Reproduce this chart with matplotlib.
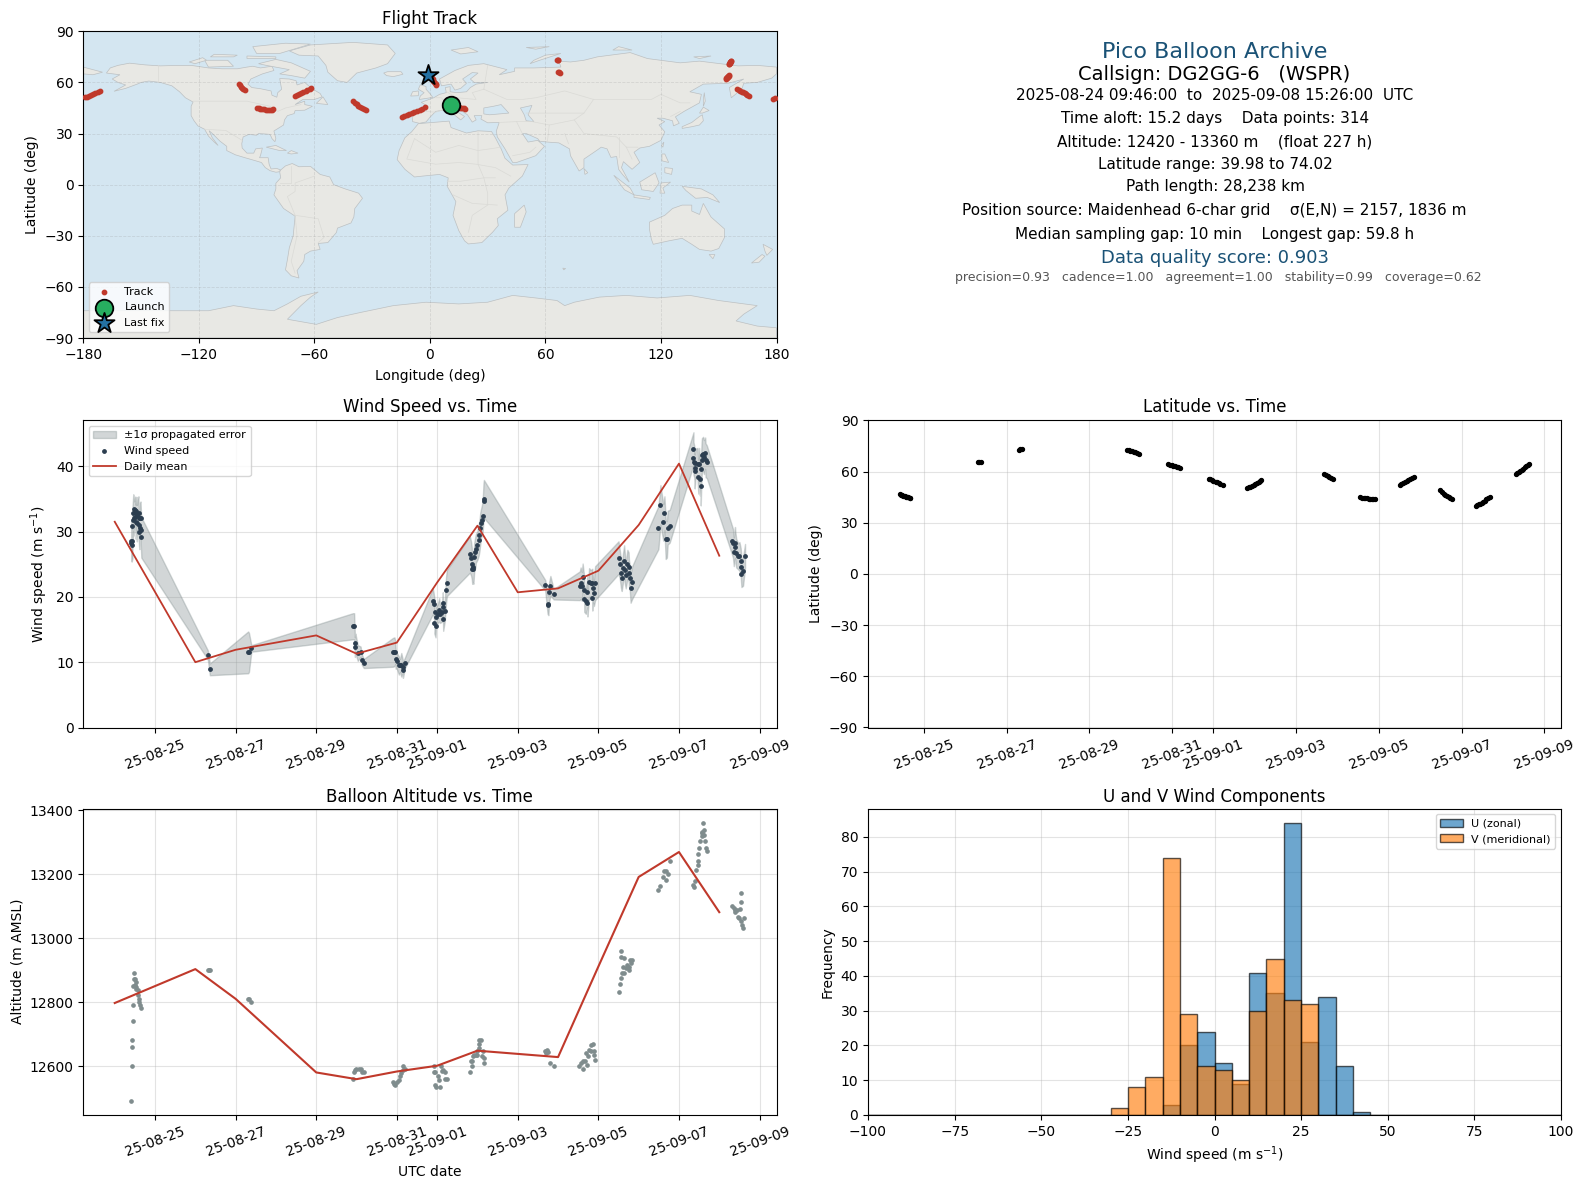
import datetime as dt

import matplotlib
matplotlib.use("Agg")
import matplotlib.dates as mdates
import matplotlib.pyplot as plt
from matplotlib.patches import Polygon

# days since 2025-08-24 00:00 UTC
START = mdates.date2num(dt.datetime(2025, 8, 24))

# ---- flight track
track_days = [0.41, 0.44, 0.47, 0.50, 0.53, 0.56, 0.59, 0.62, 0.65, 0.67,
              2.30, 2.34, 2.38, 3.30, 3.33, 3.36,
              5.91, 5.95, 5.99, 6.03, 6.07, 6.11, 6.15, 6.19,
              6.91, 6.95, 6.99, 7.03, 7.07, 7.11, 7.15, 7.19,
              7.88, 7.92, 7.96, 8.00, 8.05, 8.09, 8.13, 8.17, 8.22,
              8.81, 8.85, 8.89, 8.93, 8.97, 9.01, 9.05, 9.09, 9.13, 9.16,
              10.68, 10.72, 10.76, 10.80, 10.84, 10.89,
              11.55, 11.59, 11.63, 11.67, 11.71, 11.75, 11.79, 11.83, 11.87, 11.90,
              12.50, 12.54, 12.58, 12.63, 12.67, 12.71, 12.75, 12.80, 12.84,
              13.49, 13.53, 13.57, 13.61, 13.65, 13.69, 13.73, 13.77,
              14.34, 14.38, 14.42, 14.45, 14.49, 14.53, 14.57, 14.60, 14.64, 14.68,
              15.31, 15.35, 15.38, 15.42, 15.46, 15.49, 15.53, 15.57, 15.60, 15.64]
track_lat = [46.7, 46.4, 46.1, 45.9, 45.6, 45.3, 45.1, 44.9, 44.7, 44.5,
             65.9, 65.9, 65.8, 72.9, 73.1, 73.3,
             72.7, 72.5, 72.2, 71.9, 71.6, 71.3, 70.9, 70.6,
             64.3, 64.0, 63.7, 63.4, 63.1, 62.8, 62.5, 62.2,
             55.9, 55.5, 55.0, 54.6, 54.1, 53.7, 53.2, 52.7, 52.2,
             50.4, 50.8, 51.2, 51.7, 52.2, 52.7, 53.2, 53.8, 54.4, 54.9,
             58.8, 58.2, 57.6, 57.0, 56.4, 55.7,
             44.9, 44.7, 44.5, 44.4, 44.3, 44.1, 44.0, 43.8, 43.7, 44.2,
             52.2, 52.8, 53.3, 53.9, 54.5, 55.0, 55.6, 56.2, 56.7,
             49.0, 48.0, 47.1, 46.4, 45.8, 45.2, 44.5, 43.9,
             39.8, 40.3, 40.8, 41.3, 41.8, 42.4, 43.0, 43.7, 44.5, 45.3,
             58.4, 59.0, 59.7, 60.4, 61.1, 61.8, 62.5, 63.2, 63.7, 64.3]
track_lon = [10.7, 11.5, 12.4, 13.2, 14.0, 14.9, 15.8, 16.6, 17.5, 18.3,
             66.6, 67.0, 67.4, 66.4, 66.3, 66.2,
             156.4, 156.3, 156.1, 156.0, 155.8, 155.6, 155.4, 155.2,
             155.3, 155.1, 154.8, 154.6, 154.3, 154.1, 153.8, 153.6,
             159.7, 160.4, 161.2, 161.9, 162.7, 163.4, 164.2, 164.9, 165.6,
             178.0, 179.4, -179.2, -178.0, -177.0, -176.0, -175.0, -173.8, -172.5, -171.3,
             -99.2, -98.7, -98.1, -97.5, -96.9, -96.1,
             -90.0, -89.0, -88.0, -87.0, -86.0, -85.0, -84.0, -83.0, -82.2, -81.4,
             -69.8, -68.8, -67.8, -66.7, -65.7, -64.6, -63.6, -62.5, -61.5,
             -39.9, -39.0, -38.0, -37.1, -36.1, -35.2, -34.2, -33.3,
             -14.6, -13.3, -12.0, -10.7, -9.4, -8.0, -6.7, -5.4, -4.0, -2.7,
             3.4, 3.0, 2.6, 2.2, 1.8, 1.4, 1.0, 0.5, 0.0, -0.9]

# ---- wind speed points, 1 sigma error
wind_days = [0.41, 0.41, 0.42, 0.44, 0.44, 0.45, 0.46, 0.47, 0.48, 0.50, 0.50, 0.52, 0.52,
             0.54, 0.55, 0.56, 0.59, 0.59, 0.60, 0.61, 0.62, 0.62, 0.64, 0.65, 0.66,
             2.31, 2.36, 3.31, 3.33, 3.39,
             5.91, 5.94, 5.96, 5.97, 6.03, 6.10, 6.13, 6.18,
             6.90, 6.94, 6.96, 6.97, 7.00, 7.05, 7.08, 7.11, 7.15, 7.15, 7.20,
             7.89, 7.91, 7.94, 7.93, 7.96, 7.97, 8.01, 8.05, 8.07, 8.12, 8.14, 8.14, 8.15, 8.19, 8.22, 8.24,
             8.81, 8.84, 8.86, 8.87, 8.88, 8.90, 8.92, 8.95, 8.96, 9.00, 9.03, 9.05, 9.07, 9.09, 9.11, 9.13, 9.15, 9.16,
             10.68, 10.74, 10.76, 10.78, 10.81, 10.89,
             11.54, 11.56, 11.59, 11.61, 11.65, 11.65, 11.69, 11.73, 11.73, 11.77, 11.81, 11.85, 11.85, 11.87, 11.89, 11.92,
             12.50, 12.53, 12.56, 12.58, 12.61, 12.64, 12.66, 12.68, 12.72, 12.75, 12.76, 12.78, 12.80, 12.84,
             13.49, 13.54, 13.61, 13.64, 13.67, 13.70, 13.72, 13.77,
             14.36, 14.36, 14.38, 14.39, 14.40, 14.41, 14.46, 14.48, 14.50, 14.52, 14.54, 14.54, 14.56, 14.57, 14.60, 14.62, 14.65, 14.66, 14.69,
             15.32, 15.34, 15.36, 15.39, 15.40, 15.42, 15.47, 15.50, 15.53, 15.54, 15.55, 15.59, 15.64]
wind_speed = [28.6, 28.3, 27.9, 28.6, 30.8, 31.7, 32.9, 32.0, 33.4, 32.3, 33.3, 33.1, 31.5,
              32.8, 31.3, 32.5, 32.8, 32.0, 31.0, 29.9, 30.6, 32.0, 32.0, 30.3, 29.1,
              11.1, 8.9, 11.5, 11.5, 12.1,
              15.5, 15.5, 12.3, 12.9, 11.4, 11.6, 10.4, 9.8,
              11.5, 11.6, 11.5, 10.5, 10.2, 9.5, 9.5, 9.6, 9.3, 8.8, 9.9,
              19.3, 18.9, 17.7, 16.0, 15.5, 16.9, 17.4, 18.0, 17.4, 17.7, 18.4, 19.1, 16.6, 17.8, 21.0, 22.1,
              26.5, 25.9, 25.1, 24.2, 24.6, 24.2, 26.1, 26.9, 27.4, 27.9, 28.7, 29.4, 30.5, 31.3, 31.7, 32.4, 34.7, 35.0,
              21.8, 18.9, 18.7, 20.8, 21.7, 20.4,
              21.7, 22.1, 21.6, 23.1, 21.0, 19.7, 19.4, 20.8, 19.0, 22.2, 22.1, 22.1, 19.9, 21.3, 20.6, 22.1,
              26.0, 25.0, 23.6, 22.9, 24.4, 25.5, 24.1, 23.3, 25.0, 24.6, 23.6, 22.9, 21.3, 22.2,
              30.6, 34.1, 31.4, 32.8, 28.8, 28.8, 30.6, 30.8,
              42.7, 41.2, 40.7, 39.2, 39.8, 40.5, 40.4, 38.4, 40.4, 38.1, 39.5, 37.0, 40.9, 41.7, 41.9, 41.4, 42.0, 40.9, 40.7,
              28.6, 28.2, 26.9, 28.3, 27.7, 26.7, 26.2, 26.2, 25.5, 24.6, 23.5, 23.9, 26.3]
wind_err = [3.0, 2.8, 2.5, 2.7, 2.9, 3.0, 2.8, 2.6, 2.0, 2.4, 2.0, 2.2, 2.6,
            2.5, 2.8, 2.4, 2.6, 2.2, 2.8, 2.6, 2.6, 2.4, 2.6, 2.8, 3.1,
            0.7, 0.9, 3.2, 3.0, 0.5,
            2.0, 2.0, 1.5, 1.5, 1.2, 0.8, 0.8, 0.7,
            2.2, 2.2, 1.8, 1.5, 1.2, 1.4, 1.0, 1.8, 1.0, 1.2, 0.8,
            2.0, 1.8, 1.8, 1.6, 1.7, 1.6, 1.4, 1.8, 1.4, 1.5, 1.8, 1.6, 1.8, 1.5, 2.0, 2.0,
            2.8, 2.6, 2.4, 2.2, 2.4, 2.2, 2.2, 2.4, 2.2, 2.2, 2.4, 2.4, 2.4, 2.2, 2.3, 2.4, 2.7, 2.9,
            0.8, 1.5, 1.5, 1.5, 1.5, 0.8,
            2.2, 2.4, 2.2, 2.0, 2.0, 2.0, 2.0, 2.4, 2.0, 2.2, 2.0, 2.2, 2.0, 2.2, 2.0, 2.6,
            2.5, 2.2, 2.2, 2.0, 2.2, 2.4, 2.2, 2.0, 2.2, 2.2, 2.0, 2.0, 2.2, 2.5,
            3.3, 3.0, 2.8, 2.6, 3.0, 2.8, 2.6, 2.5,
            2.5, 2.5, 2.4, 2.6, 2.4, 2.2, 2.4, 2.6, 2.4, 2.6, 2.4, 3.0, 2.6, 2.6, 2.6, 2.6, 2.4, 2.6, 2.5,
            2.2, 2.2, 2.2, 2.4, 2.2, 2.2, 2.0, 2.2, 2.0, 2.2, 2.0, 2.2, 1.8]

# ---- altitude points
alt_days = [0.41, 0.42, 0.425, 0.43, 0.45, 0.455, 0.46, 0.47, 0.48, 0.50, 0.51, 0.52, 0.53, 0.54, 0.58, 0.585, 0.60, 0.605, 0.62, 0.65,
            2.31, 2.34, 2.36, 3.31, 3.33, 3.38,
            5.91, 5.93, 5.96, 5.99, 6.06, 6.12, 6.14, 6.18,
            6.90, 6.92, 6.96, 7.00, 7.05, 7.08, 7.11, 7.15, 7.16, 7.20,
            7.91, 7.91, 7.95, 7.97, 7.95, 8.01, 8.07, 8.05, 8.10, 8.12, 8.15, 8.20, 8.19, 8.24,
            8.81, 8.84, 8.86, 8.86, 8.88, 8.92, 8.96, 9.00, 9.00, 9.05, 9.05, 9.03, 9.09, 9.11, 9.13, 9.15, 9.15,
            10.68, 10.73, 10.76, 10.71, 10.81, 10.89,
            11.52, 11.56, 11.61, 11.62, 11.66, 11.69, 11.75, 11.77, 11.81, 11.87, 11.81, 11.89, 11.91, 11.88, 11.71,
            12.50, 12.53, 12.56, 12.58, 12.64, 12.60, 12.56, 12.57, 12.64, 12.72, 12.76, 12.75, 12.80, 12.84, 12.78, 12.68,
            13.49, 13.54, 13.61, 13.64, 13.69, 13.72, 13.69, 13.77,
            14.36, 14.38, 14.40, 14.43, 14.46, 14.48, 14.48, 14.50, 14.52, 14.56, 14.58, 14.62, 14.60, 14.62, 14.65, 14.66, 14.69, 14.56,
            15.32, 15.36, 15.40, 15.39, 15.43, 15.46, 15.49, 15.51, 15.53, 15.55, 15.55, 15.57, 15.58, 15.62]
alt_m = [12491, 12600, 12659, 12681, 12741, 12791, 12851, 12872, 12891, 12852, 12872, 12862, 12840, 12846, 12839, 12823, 12810, 12800, 12792, 12780,
         12900, 12900, 12900, 12810, 12810, 12800,
         12559, 12581, 12587, 12592, 12592, 12592, 12581, 12581,
         12550, 12544, 12542, 12550, 12557, 12568, 12578, 12589, 12599, 12592,
         12581, 12599, 12581, 12533, 12542, 12568, 12533, 12557, 12599, 12583, 12589, 12581, 12559, 12559,
         12581, 12615, 12599, 12615, 12630, 12635, 12633, 12635, 12646, 12656, 12669, 12680, 12680, 12630, 12646, 12609, 12625,
         12648, 12651, 12644, 12641, 12610, 12600,
         12599, 12609, 12592, 12615, 12615, 12641, 12630, 12651, 12667, 12669, 12646, 12646, 12618, 12635, 12602,
         12831, 12858, 12875, 12891, 12891, 12911, 12941, 12959, 12937, 12917, 12901, 12911, 12922, 12931, 12930, 12908,
         13150, 13162, 13191, 13211, 13211, 13201, 13181, 13242,
         13167, 13161, 13179, 13214, 13229, 13242, 13262, 13281, 13304, 13318, 13333, 13339, 13359, 13323, 13302, 13283, 13273, 13328,
         13099, 13094, 13089, 13081, 13089, 13065, 13063, 13091, 13141, 13112, 13052, 13040, 13031, 13062]

# ---- daily means
daily_days = [0, 2, 3, 5, 6, 7, 8, 9, 10, 11, 12, 13, 14, 15]
daily_wind = [31.5, 10.0, 11.9, 14.1, 11.3, 13.0, 22.2, 30.9, 20.7, 21.3, 24.0, 31.0, 40.4, 26.3]
daily_alt = [12797, 12903, 12810, 12580, 12559, 12583, 12601, 12648, 12638, 12628, 12911, 13191, 13269, 13081]

# ---- histogram, bins of 5 m/s from -100 to 100
hist_edges = list(range(-100, 105, 5))
u_counts = [0] * 17 + [3, 20, 24, 15, 9, 41, 35, 84, 21, 34, 14, 1] + [0] * 11
v_counts = [0] * 14 + [2, 8, 11, 74, 29, 14, 13, 10, 30, 45, 33, 32] + [0] * 14

date_ticks = [dt.datetime(2025, 8, 25), dt.datetime(2025, 8, 27), dt.datetime(2025, 8, 29),
              dt.datetime(2025, 8, 31), dt.datetime(2025, 9, 1), dt.datetime(2025, 9, 3),
              dt.datetime(2025, 9, 5), dt.datetime(2025, 9, 7), dt.datetime(2025, 9, 9)]

# ---- rough world outline, lon/lat
land = [
    # north america
    [(-168, 65.5), (-166, 68.5), (-162, 70), (-156, 71.3), (-148, 70.3), (-140, 69.7), (-130, 70), (-124, 70),
     (-115, 68.5), (-108, 68), (-100, 68), (-95, 69), (-92, 69.5), (-88, 68.5), (-82, 69.5), (-81, 67), (-87, 65),
     (-93, 62), (-94.5, 59), (-92.5, 57), (-88, 56.3), (-82.5, 55), (-82, 52.5), (-79.5, 51.3), (-79, 54), (-77, 56),
     (-77.5, 59), (-78, 62.3), (-73, 62), (-69.5, 61), (-69, 58.5), (-65, 60), (-61.5, 56.5), (-57, 53.5), (-56, 51.5),
     (-60, 50), (-66, 50), (-70, 47), (-65, 49), (-65, 47), (-61, 46), (-65, 43.7), (-70, 43.5), (-70.5, 41.7),
     (-74, 40.5), (-75.5, 38), (-76, 35), (-81, 31.5), (-80, 27), (-80.5, 25.2), (-82, 27), (-83, 29.5), (-85, 29.7),
     (-89, 30), (-90, 29), (-94, 29.5), (-97, 28), (-97.7, 24), (-97.5, 21.5), (-95, 18.5), (-91.5, 18.5), (-90.5, 21),
     (-87, 21.5), (-88, 17), (-88.5, 15.8), (-84, 15.8), (-83.5, 12), (-82.5, 9.2), (-79.5, 9.5), (-77.5, 8.6),
     (-78.5, 7.5), (-80, 7.3), (-83, 8.2), (-85.5, 10), (-87.5, 13), (-92, 14.5), (-96, 15.8), (-101, 17.5),
     (-105.5, 20), (-105.5, 22.5), (-109, 25.5), (-112.5, 29.5), (-114.7, 31.7), (-113, 27.5), (-110, 23), (-112, 25),
     (-115, 28.5), (-117, 32.5), (-120.5, 34.5), (-122.5, 37.5), (-124, 40.5), (-124, 46), (-123, 48.5), (-127, 51),
     (-130, 54.5), (-134, 58), (-140, 60), (-146, 60.8), (-150, 60), (-152, 59), (-158, 56.5), (-164, 54.8),
     (-158, 58.5), (-162, 60), (-165, 62), (-161, 64.5)],
    # greenland
    [(-73, 78.5), (-62, 82), (-40, 83.5), (-22, 82), (-18, 77), (-22, 71), (-28, 68.5), (-38, 65.5), (-43, 60),
     (-48, 61), (-53, 66), (-54, 70), (-58, 75.5), (-68, 76)],
    # canadian arctic, caribbean
    [(-80, 73.5), (-72, 71.5), (-67, 69), (-62, 66.5), (-65, 62.5), (-72, 64), (-78, 65), (-73, 67.5), (-85, 70), (-89, 71)],
    [(-117, 73), (-105, 73), (-102, 69.5), (-115, 69)],
    [(-90, 77), (-78, 77), (-62, 82.5), (-75, 83), (-92, 81)],
    [(-125, 72), (-118, 74.5), (-116, 73), (-122, 71)],
    [(-95, 75.5), (-80, 75), (-80, 74), (-95, 74)],
    [(-112, 76.5), (-100, 76), (-102, 75), (-114, 75)],
    [(-59, 47.7), (-55.5, 51.5), (-53, 47)],
    [(-85, 22), (-80, 23), (-74.5, 20), (-78, 20)],
    [(-74, 18.5), (-72, 20), (-68.5, 18.5), (-72, 18)],
    # iceland, britain
    [(-24, 65.5), (-22, 66.3), (-15, 66.3), (-14, 64.8), (-19, 63.4), (-22.5, 64)],
    [(-5.5, 50), (1.5, 51.2), (0, 53.5), (-2, 56), (-2, 57.6), (-5, 58.6), (-6, 56), (-3, 54), (-5, 52)],
    [(-10, 52), (-6, 52.2), (-6, 55), (-9, 54.5)],
    # south america
    [(-77.5, 8.6), (-75, 11), (-71.5, 12.4), (-68, 10.5), (-62, 10.7), (-57, 6), (-52, 4.5), (-50, 0), (-44, -2.5),
     (-37, -5), (-35, -8), (-39, -14), (-39.5, -19), (-41, -22.5), (-48, -25.5), (-48.5, -28), (-53, -34), (-58, -34.5),
     (-57, -38), (-62, -39), (-65, -41), (-65.5, -45), (-69, -50.5), (-68, -54.8), (-72, -53.5), (-75, -50), (-74, -44),
     (-73, -37), (-71, -30), (-70, -18.5), (-76, -14), (-81, -6), (-80, -2.5), (-80, 0.8), (-77.5, 4), (-78, 7.5)],
    # africa
    [(-6, 35.8), (10, 37.3), (11, 33.5), (19, 30.3), (25, 31.6), (32, 31.2), (34, 27.5), (37, 21), (39, 15.5), (43, 11.5),
     (51, 11.8), (48, 5), (41, -2), (39, -6), (40.5, -15), (35, -20), (35.5, -24), (32.5, -28), (27, -34), (20, -34.8),
     (18, -33), (15, -27), (12, -18), (13.5, -10), (9, -1), (9.5, 4), (5, 6), (-4, 5), (-8, 4.5), (-13, 9), (-17, 14.7),
     (-16, 20), (-13, 27.5), (-9.5, 31)],
    # eurasia
    [(-9, 37), (-9.5, 43), (-2, 43.5), (-1, 46), (-4.5, 48.3), (2, 51), (5, 53), (8.5, 54), (8, 57), (10.5, 57.5), (10.5, 54.5),
     (14, 54), (19, 54.5), (21, 57), (24, 59), (30, 60), (23, 60), (21, 62), (25, 65.5), (22, 65.8), (17, 62), (19, 59.5),
     (16, 56.5), (13, 55.5), (11, 59), (6, 58), (5, 62), (13, 67), (20, 70), (28, 71), (40, 67.5), (36, 64.5), (44, 66.5),
     (44, 68.5), (54, 68.5), (68, 69), (67, 72.5), (73, 72), (80, 73), (87, 75), (104, 77.5), (113, 74), (130, 71.5),
     (140, 72.5), (160, 69.7), (170, 70), (180, 69), (180, 65), (177.5, 62.5), (170, 60), (163, 59.5), (162, 56), (156.5, 51),
     (155.5, 57), (163, 62), (155, 59.5), (142, 59), (135, 54.5), (141, 53), (140, 48), (132, 43), (127.5, 39.8), (129.5, 36),
     (126.5, 34.5), (126, 37.5), (121, 39), (118, 39), (122, 37), (119, 35), (122, 31), (120, 26), (114, 22.5), (109, 21.5),
     (106, 19), (109, 13), (105, 9), (100.5, 13.5), (99.5, 10), (103.5, 1.5), (100, 6), (98, 9), (97, 16.5), (94, 16), (92, 21),
     (89, 22), (86.5, 20), (80, 15), (80, 10), (77.5, 8), (73, 17), (72.5, 21), (67, 24.5), (61, 25), (57, 25.5), (56, 27),
     (50, 30), (48, 30), (51, 25), (56, 26), (59.5, 22.5), (55, 17), (45, 13), (43, 13), (39, 21), (35, 28), (34.5, 31.5),
     (36, 36.5), (30, 36.3), (26.5, 38.5), (27, 40.5), (23, 40.5), (24, 38), (22, 36.7), (19.5, 41), (13.5, 45.5), (12.5, 44),
     (18, 40), (16, 38), (11, 42.5), (7, 43.7), (3, 43), (0, 39.5), (-2, 36.8), (-5.5, 36)],
    [(-180, 69), (-170, 66), (-175, 64.5), (-180, 65)],
    # islands
    [(114, -22), (122, -18), (126, -14), (131, -12), (136, -12), (136, -15.5), (140, -17.5), (142, -11), (146, -19), (153, -26),
     (153, -31), (150, -37.5), (146, -39), (140, -38), (136, -35), (131, -31.5), (124, -33), (116, -35), (115, -32), (114, -26)],
    [(145, -41), (148, -41), (147, -43.5)],
    [(173, -35), (178, -38), (175, -41.5), (174, -39)],
    [(172.5, -41), (174, -42), (171, -45.5), (167, -46)],
    [(49, -12), (50, -16), (47, -25), (44, -25), (44, -17)],
    [(95.5, 5.5), (104, -2), (106, -6), (101, -3)],
    [(106, -6), (114.5, -7.5), (114, -8.7), (106, -7.5)],
    [(109, 1.5), (117, 7), (119, 1), (116, -4), (110, -3)],
    [(120, 1), (125, 1.5), (121, -2), (122, -5), (119.5, -5)],
    [(131, -1), (141, -2.5), (147, -6), (150.5, -10.5), (144, -7.5), (138, -8), (133, -3.5)],
    [(120.5, 18), (122, 18), (124, 13), (120.5, 14)],
    [(122, 10), (126, 9.5), (125.5, 6), (122, 7)],
    [(131, 34), (136, 36.5), (140, 40), (141.5, 41), (142, 37.5), (140, 35), (136, 34), (131, 33)],
    [(140, 42), (142, 45.5), (145, 43.5), (141.5, 42)],
    [(142, 46), (143, 49), (142.5, 54), (142, 50)],
    [(120.2, 23), (121.5, 25), (121, 22)],
    [(80, 9.5), (82, 7), (80.5, 6)],
    [(52, 71), (57, 73), (68, 77), (60, 76), (54, 73)],
    [(11, 79), (20, 80.5), (25, 78), (16, 76.7)],
    [(50, 80.5), (62, 81), (55, 79.5)],
    [(95, 79), (105, 79), (98, 81)],
    [(137, 75), (146, 75.5), (140, 74)],
    [(69, -49), (70.5, -49.2), (69.5, -50)],
    # antarctica
    [(-180, -74), (-150, -74), (-130, -74), (-115, -74), (-102, -71), (-90, -73), (-81, -74), (-74, -70), (-67, -65.5),
     (-58, -63), (-62, -66), (-67, -71), (-74, -79), (-59, -82), (-48, -78), (-36, -75), (-19, -71), (-2, -69), (15, -70),
     (30, -69), (43, -65), (55, -66.5), (66, -68), (70, -71), (75, -69), (88, -66), (102, -65), (118, -66.5), (135, -65),
     (150, -68), (170, -71), (163, -76), (159, -80), (170, -83), (180, -84), (180, -90), (-180, -90)],
]
water = [
    [(28, 41.5), (28, 45), (33, 46), (37, 47), (41, 42), (36, 41.5), (31, 41)],
    [(47, 45), (53, 46.5), (51, 41), (54, 37), (50, 37.5), (49, 41)],
]
borders = [
    [(-141, 70), (-141, 60)],
    [(-123, 49), (-95, 49), (-83, 46), (-79, 43), (-75, 45), (-67, 47)],
    [(-117, 32.5), (-106, 31.8), (-97.5, 26)],
    [(-70, -18), (-58, -20), (-55, -31), (-58, -34)],
    [(-70, -18), (-74, -7), (-70, -4), (-70, 1), (-60, 5)],
    [(-70, -18), (-69, -30), (-72, -45), (-70, -52)],
    [(-78, 1), (-72, 1), (-72, 7), (-72, 11)],
    [(-8, 27), (3, 19), (15, 23), (25, 20), (37, 22)],
    [(-8, 27), (-12, 15), (3, 12), (15, 13), (24, 12), (34, 10), (42, 5)],
    [(25, 31), (25, 12), (28, 4), (30, -5), (30, -12), (22, -18), (20, -28)],
    [(9, 2), (16, 2), (28, 4), (34, 4)],
    [(12, -6), (22, -11), (35, -12)],
    [(-9, 42), (-2, 43), (3, 42.5), (7, 44), (8, 48), (6, 51), (3, 51)],
    [(8, 55), (14, 51), (24, 50), (22, 54), (28, 56)],
    [(28, 56), (30, 70)],
    [(28, 56), (40, 50), (48, 50), (55, 51), (70, 55), (85, 50), (98, 50), (115, 50), (120, 53), (130, 48), (135, 48)],
    [(50, 42), (60, 42), (70, 42), (80, 42), (85, 50)],
    [(75, 38), (80, 30), (97, 28), (102, 22), (108, 22)],
    [(80, 42), (75, 38), (62, 35), (61, 25)],
    [(45, 37), (48, 30)],
    [(36, 36.5), (45, 37), (53, 37), (62, 35)],
    [(70, 30), (72, 24)],
    [(98, 28), (98, 16)],
    [(102, 22), (105, 15)],
    [(43, 17), (52, 19), (55, 22)],
    [(130, 43), (125, 40)],
]

info_lines = [
    ("Pico Balloon Archive", 16, "#1a5276", 1215, 52),
    ("Callsign: DG2GG-6   (WSPR)", 14, "black", 1214, 75),
    ("2025-08-24 09:46:00  to  2025-09-08 15:26:00  UTC", 11, "black", 1215, 96),
    ("Time aloft: 15.2 days    Data points: 314", 11, "black", 1215, 119),
    ("Altitude: 12420 - 13360 m    (float 227 h)", 11, "black", 1215, 142),
    ("Latitude range: 39.98 to 74.02", 11, "black", 1215, 165),
    ("Path length: 28,238 km", 11, "black", 1215, 187),
    ("Position source: Maidenhead 6-char grid    σ(E,N) = 2157, 1836 m", 11, "black", 1214, 210),
    ("Median sampling gap: 10 min    Longest gap: 59.8 h", 11, "black", 1215, 234),
    ("Data quality score: 0.903", 13, "#1a5276", 1215, 258),
    ("precision=0.93   cadence=1.00   agreement=1.00   stability=0.99   coverage=0.62", 9, "#555555", 1218, 278),
]

WIDTH, HEIGHT = 1587, 1189
RED = "#c0392b"


def place(left, top, right, bottom):
    # axes from pixel box
    return fig.add_axes([left / WIDTH, 1 - bottom / HEIGHT, (right - left) / WIDTH, (bottom - top) / HEIGHT])


def to_dates(days):
    return [START + d for d in days]


def date_axis(ax, first, last):
    ax.set_xlim(START + first, START + last)
    ax.set_xticks(mdates.date2num(date_ticks))
    ax.xaxis.set_major_formatter(mdates.DateFormatter("%y-%m-%d"))
    ax.tick_params(axis="x", labelrotation=20)
    ax.grid(True, color="#b0b0b0", alpha=0.35, linewidth=0.8)
    ax.set_axisbelow(True)


fig = plt.figure(figsize=(WIDTH / 100, HEIGHT / 100), dpi=100)

# ---- map
ax_map = place(83.3, 31.3, 776.5, 338)
ax_map.set_facecolor("#d4e6f1")
for shape in land:
    ax_map.add_patch(Polygon(shape, closed=True, facecolor="#e8e8e4", edgecolor="#bcc0c2", linewidth=0.5, zorder=1))
for shape in water:
    ax_map.add_patch(Polygon(shape, closed=True, facecolor="#d4e6f1", edgecolor="#bcc0c2", linewidth=0.5, zorder=1.1))
for line in borders:
    ax_map.plot([p[0] for p in line], [p[1] for p in line], color="#dadad6", linewidth=0.5, zorder=1.2)
ax_map.grid(True, color="#888888", alpha=0.22, linewidth=0.6, linestyle="--", zorder=1.5)
ax_map.scatter(track_lon, track_lat, s=10, color=RED, zorder=3, label="Track")
ax_map.scatter([track_lon[0]], [track_lat[0]], s=160, color="#27ae60", edgecolor="black", linewidth=1.3, zorder=4, label="Launch")
ax_map.scatter([track_lon[-1]], [track_lat[-1]], s=230, marker="*", color="#2471a3", edgecolor="black", linewidth=1.3, zorder=5, label="Last fix")
ax_map.set_xlim(-180, 180)
ax_map.set_ylim(-90, 90)
ax_map.set_xticks(range(-180, 181, 60))
ax_map.set_yticks(range(-90, 91, 30))
ax_map.set_xlabel("Longitude (deg)", labelpad=5.5)
ax_map.set_ylabel("Latitude (deg)")
ax_map.set_title("Flight Track", fontsize=12, pad=5)
ax_map.legend(loc="lower left", fontsize=8)

# ---- text block
for text, size, color, x, y in info_lines:
    fig.text(x / WIDTH, 1 - y / HEIGHT, text, fontsize=size, color=color, ha="center", va="center")

# ---- wind speed
ax_wind = place(83.3, 420.5, 776.5, 727.5)
lower = [v - e for v, e in zip(wind_speed, wind_err)]
upper = [v + e for v, e in zip(wind_speed, wind_err)]
ax_wind.fill_between(to_dates(wind_days), lower, upper, color="#7f8c8d", alpha=0.35, label="±1σ propagated error")
ax_wind.scatter(to_dates(wind_days), wind_speed, s=6, color="#2c3e50", zorder=3, label="Wind speed")
ax_wind.plot(to_dates(daily_days), daily_wind, color=RED, linewidth=1.3, zorder=4, label="Daily mean")
date_axis(ax_wind, -0.78, 16.42)
ax_wind.set_ylim(0, 47)
ax_wind.set_ylabel("Wind speed (m s$^{-1}$)")
ax_wind.set_title("Wind Speed vs. Time", fontsize=12)
ax_wind.legend(loc="upper left", fontsize=8)

# ---- latitude, only the points set its range
ax_lat = place(868, 420.5, 1561, 727.5)
ax_lat.scatter(to_dates(track_days), track_lat, s=8, color="black", zorder=3)
date_axis(ax_lat, -0.355, 16.405)
ax_lat.set_ylim(-90, 90)
ax_lat.set_yticks(range(-90, 91, 30))
ax_lat.set_ylabel("Latitude (deg)")
ax_lat.set_title("Latitude vs. Time", fontsize=12)

# ---- altitude
ax_alt = place(83.3, 808.5, 776.5, 1115)
ax_alt.scatter(to_dates(alt_days), alt_m, s=5.5, color="#7f8c8d", zorder=3)
ax_alt.plot(to_dates(daily_days), daily_alt, color=RED, linewidth=1.5, zorder=4)
date_axis(ax_alt, -0.78, 16.42)
ax_alt.set_ylim(12447, 13405)
ax_alt.set_yticks([12600, 12800, 13000, 13200, 13400])
ax_alt.set_xlabel("UTC date")
ax_alt.set_ylabel("Altitude (m AMSL)")
ax_alt.set_title("Balloon Altitude vs. Time", fontsize=12, pad=5)

# ---- histogram
ax_hist = place(868, 808.5, 1561, 1115)
ax_hist.hist(hist_edges[:-1], bins=hist_edges, weights=u_counts, color="#1f77b4", alpha=0.65, edgecolor="black", label="U (zonal)")
ax_hist.hist(hist_edges[:-1], bins=hist_edges, weights=v_counts, color="#ff7f0e", alpha=0.65, edgecolor="black", label="V (meridional)")
ax_hist.set_xlim(-100, 100)
ax_hist.grid(True, color="#b0b0b0", alpha=0.35, linewidth=0.8)
ax_hist.set_axisbelow(True)
ax_hist.set_xlabel("Wind speed (m s$^{-1}$)")
ax_hist.set_ylabel("Frequency")
ax_hist.set_title("U and V Wind Components", fontsize=12, pad=5)
ax_hist.legend(loc="upper right", fontsize=8)

fig.savefig("out.png", dpi=100)
